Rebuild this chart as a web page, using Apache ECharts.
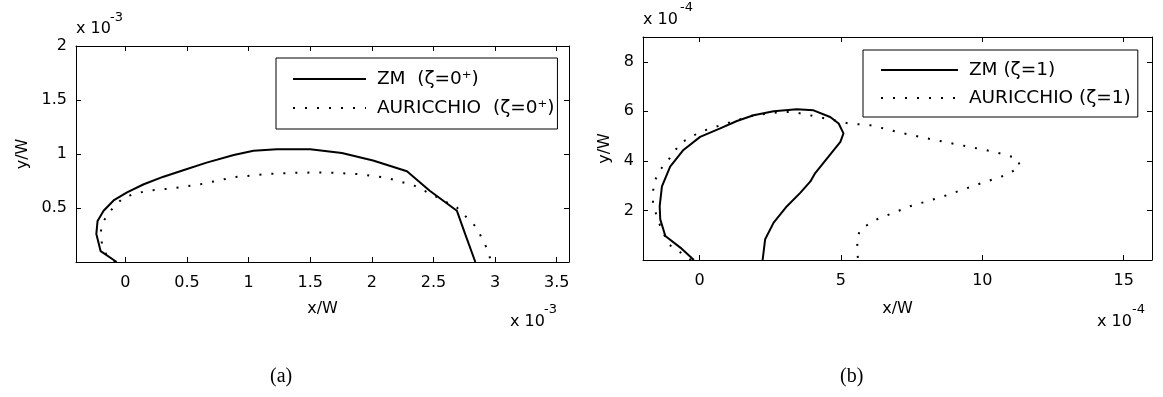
<!DOCTYPE html>
<html lang="en">
<head>
    <meta charset="utf-8">
    <title>ZM vs AURICCHIO</title>
    <style>
        html, body {
            margin: 0;
            padding: 0;
            background: #ffffff;
        }

        #chart {
            width: 1163px;
            height: 397px;
        }
    </style>
</head>
<body>
<div id="chart"></div>

<script type="text/javascript" src="https://cdn.jsdelivr.net/npm/echarts@6.0.0/dist/echarts.min.js"></script>
<script type="text/javascript">

    // (a) zeta = 0+   -- x, y in units of 1e-3
    var zmAX = [-0.07, -0.2, -0.235, -0.225, -0.176, -0.095, 0.014, 0.15, 0.31, 0.47, 0.66, 0.88, 1.04, 1.23, 1.5, 1.757, 2.01, 2.285, 2.47, 2.69, 2.757, 2.84];
    var zmAY = [0, 0.1, 0.26, 0.38, 0.475, 0.57, 0.645, 0.72, 0.79, 0.85, 0.92, 0.99, 1.03, 1.045, 1.045, 1.01, 0.94, 0.84, 0.66, 0.475, 0.26, 0];
    var auAX = [-0.08, -0.15, -0.19, -0.197, -0.176, -0.12, -0.014, 0.176, 0.365, 0.61, 0.88, 1.15, 1.34, 1.61, 1.88, 2.12, 2.34, 2.53, 2.69, 2.85, 2.93, 2.97];
    var auAY = [0, 0.056, 0.165, 0.29, 0.38, 0.475, 0.6, 0.66, 0.68, 0.72, 0.785, 0.815, 0.825, 0.83, 0.815, 0.78, 0.71, 0.6, 0.505, 0.32, 0.135, 0];

    // (b) zeta = 1   -- x, y in units of 1e-4
    var zmBX = [-0.2, -0.68, -1.21, -1.39, -1.41, -1.33, -1.04, -0.57, 0.02, 0.73, 1.32, 1.91, 2.62, 3.44, 4.03, 4.62, 4.92, 5.09, 4.98, 4.56, 4.09, 3.92, 3.56, 3.09, 2.62, 2.32, 2.23];
    var zmBY = [0, 0.5, 0.97, 1.64, 2.17, 2.97, 3.77, 4.44, 4.97, 5.31, 5.61, 5.84, 6.0, 6.08, 6.04, 5.77, 5.51, 5.11, 4.77, 4.17, 3.51, 3.17, 2.71, 2.17, 1.51, 0.84, 0];
    var auBX = [-0.3, -0.68, -1.1, -1.39, -1.65, -1.63, -1.39, -1.1, -0.68, 0.02, 0.85, 1.91, 2.85, 3.33, 4.3, 5.27, 6.04, 7.22, 8.04, 9.22, 10.4, 11.23, 11.34, 10.87, 9.81, 8.63, 7.45, 6.27, 5.68, 5.57, 5.59, 5.6];
    var auBY = [0, 0.31, 0.64, 1.37, 2.24, 3.1, 3.64, 4.04, 4.71, 5.17, 5.48, 5.84, 5.97, 5.97, 5.75, 5.51, 5.44, 5.11, 4.91, 4.64, 4.37, 4.11, 3.77, 3.44, 3.04, 2.57, 2.17, 1.64, 1.24, 0.84, 0.31, 0];

    // tick labels
    var xTicksA = [0, 0.5, 1, 1.5, 2, 2.5, 3, 3.5];
    var yTicksA = [0.5, 1, 1.5, 2];
    var xTicksB = [0, 5, 10, 15];
    var yTicksB = [2, 4, 6, 8];

    var namesA = ['ZM  (ζ=0⁺)', 'AURICCHIO  (ζ=0⁺)'];
    var namesB = ['ZM (ζ=1)', 'AURICCHIO (ζ=1)'];

    function pairs(xs, ys) {
        var out = [];
        for (var i = 0; i < xs.length; i++) {
            out.push([xs[i], ys[i]]);
        }
        return out;
    }

    var font = "'DejaVu Sans', Arial, Helvetica, sans-serif";

    // one side of the box: ticks inside, labels only on bottom / left
    function axis(grid, pos, min, max, ticks, withLabel, name, gap) {
        return {
            type: 'value',
            gridIndex: grid,
            position: pos,
            min: min,
            max: max,
            name: name || '',
            nameLocation: 'middle',
            nameGap: gap || 0,
            nameTextStyle: {color: '#000', fontSize: 16, fontFamily: font},
            axisLine: {show: true, onZero: false, lineStyle: {color: '#000', width: 1}},
            axisTick: {show: true, inside: true, length: 5, customValues: ticks, lineStyle: {color: '#000', width: 1}},
            axisLabel: {
                show: withLabel,
                customValues: ticks,
                color: '#000',
                fontSize: 16,
                fontFamily: font,
                margin: (pos === 'bottom') ? 13 : 9
            },
            splitLine: {show: false}
        };
    }

    function legendOf(grid, names, left, top, pad, gap) {
        return {
            data: names,
            orient: 'vertical',
            left: left,
            top: top,
            padding: pad,
            itemGap: gap,
            itemWidth: (grid === 0) ? 73 : 77,
            itemHeight: 14,
            itemStyle: {opacity: 0},
            borderColor: '#000',
            borderWidth: 1,
            borderRadius: 0,
            backgroundColor: '#fff',
            selectedMode: false,
            formatter: function (n) {
                return ' ' + n;
            },
            textStyle: {color: '#000', fontSize: 18.5, lineHeight: 22, fontFamily: font}
        };
    }

    function lineSeries(name, grid, data, solid) {
        return {
            name: name,
            type: 'line',
            xAxisIndex: grid * 2,
            yAxisIndex: grid * 2,
            data: data,
            symbol: 'none',
            showSymbol: false,
            smooth: false,
            animation: false,
            z: solid ? 4 : 2,
            lineStyle: solid
                ? {color: '#000', width: 2}
                : {color: '#000', width: 2, type: [2, 10]},
            itemStyle: {color: '#000'}
        };
    }

    function txt(left, top, s, size, family) {
        return {type: 'text', left: left, top: top, style: {text: s, fontSize: size, fontFamily: family || font, fill: '#000'}};
    }

    var myChart = echarts.init(document.getElementById('chart'));

    var option = {
        animation: false,
        backgroundColor: '#fff',
        textStyle: {fontFamily: font},
        grid: [
            {left: 76, top: 46, width: 493, height: 216},
            {left: 643, top: 37, width: 509, height: 223}
        ],
        xAxis: [
            axis(0, 'bottom', -0.4, 3.6, xTicksA, true, 'x/W', 39),
            axis(0, 'top', -0.4, 3.6, xTicksA, false),
            axis(1, 'bottom', -2, 16, xTicksB, true, 'x/W', 41),
            axis(1, 'top', -2, 16, xTicksB, false)
        ],
        yAxis: [
            axis(0, 'left', 0, 2, yTicksA, true, 'y/W', 45),
            axis(0, 'right', 0, 2, yTicksA, false),
            axis(1, 'left', 0, 9, yTicksB, true, 'y/W', 30),
            axis(1, 'right', 0, 9, yTicksB, false)
        ],
        legend: [
            legendOf(0, namesA, 276, 58, [10, 3, 10, 16], 7),
            legendOf(1, namesB, 863, 50, [9, 7, 8, 17], 6)
        ],
        series: [
            lineSeries(namesA[0], 0, pairs(zmAX, zmAY), true),
            lineSeries(namesA[1], 0, pairs(auAX, auAY), false),
            lineSeries(namesB[0], 1, pairs(zmBX, zmBY), true),
            lineSeries(namesB[1], 1, pairs(auBX, auBY), false)
        ],
        // exponent multipliers and sub-figure captions
        graphic: [
            txt(76, 21, 'x 10', 16),
            txt(110, 11, '-3', 13),
            txt(643, 12, 'x 10', 16),
            txt(680, 1, '-4', 13),
            txt(510, 314, 'x 10', 16),
            txt(544, 303, '-3', 13),
            txt(1097, 314, 'x 10', 16),
            txt(1132, 303, '-4', 13),
            txt(270, 367, '(a)', 20, "'Liberation Serif', 'DejaVu Serif', serif"),
            txt(840, 367, '(b)', 20, "'Liberation Serif', 'DejaVu Serif', serif")
        ]
    };

    myChart.setOption(option);
</script>
</body>
</html>
